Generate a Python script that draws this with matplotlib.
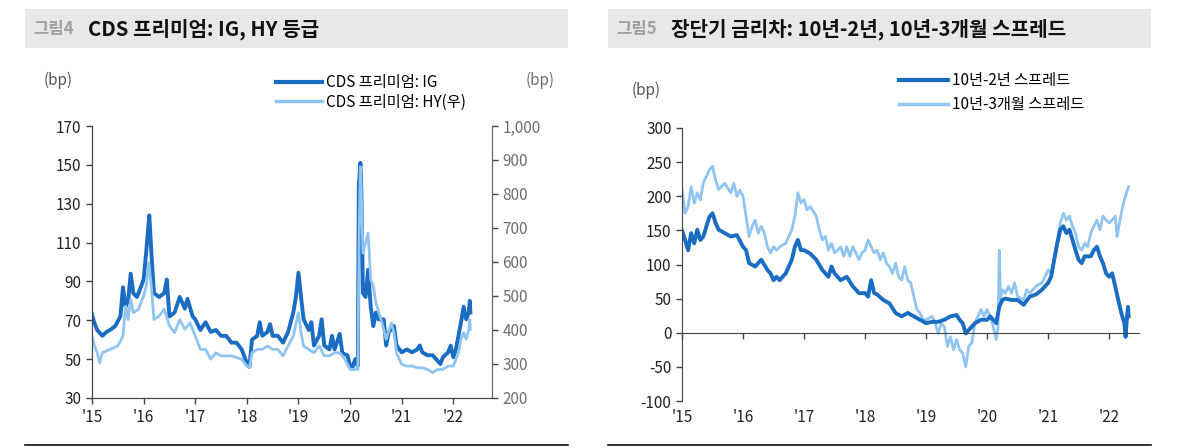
import numpy as np
import matplotlib
matplotlib.use('Agg')
import matplotlib.pyplot as plt
from matplotlib.patches import Rectangle
from matplotlib.lines import Line2D
import matplotlib.transforms as mtransforms

plt.rcParams['font.family'] = ['Noto Sans CJK KR', 'DejaVu Sans']
plt.rcParams['axes.unicode_minus'] = False

# colours
DARK = '#1a6dc2'
LIGHT = '#90c4f1'

# ---- 그림4: CDS premium (decimal years) ----
ig_t = [2015.0, 2015.03, 2015.1, 2015.2, 2015.28, 2015.35, 2015.45, 2015.55, 2015.6, 2015.65, 2015.7,
        2015.75, 2015.8, 2015.87, 2015.93, 2016.0, 2016.05, 2016.09, 2016.11, 2016.15, 2016.2, 2016.3,
        2016.4, 2016.45, 2016.5, 2016.6, 2016.7, 2016.8, 2016.85, 2016.95, 2017.0, 2017.1, 2017.2,
        2017.3, 2017.4, 2017.5, 2017.6, 2017.7, 2017.8, 2017.9, 2018.0, 2018.05, 2018.1, 2018.2,
        2018.25, 2018.3, 2018.4, 2018.45, 2018.5, 2018.6, 2018.7, 2018.8, 2018.9, 2018.95, 2019.0,
        2019.05, 2019.1, 2019.2, 2019.25, 2019.3, 2019.4, 2019.45, 2019.5, 2019.6, 2019.65, 2019.7,
        2019.8, 2019.85, 2019.95, 2020.0, 2020.05, 2020.1, 2020.15, 2020.17, 2020.2, 2020.22, 2020.25,
        2020.3, 2020.35, 2020.4, 2020.45, 2020.5, 2020.55, 2020.65, 2020.7, 2020.75, 2020.85, 2020.9,
        2021.0, 2021.1, 2021.2, 2021.3, 2021.35, 2021.4, 2021.5, 2021.6, 2021.7, 2021.75, 2021.8,
        2021.9, 2021.95, 2022.0, 2022.05, 2022.1, 2022.15, 2022.2, 2022.25, 2022.3, 2022.32, 2022.33]
ig_v = [73, 70, 65, 62, 64, 65, 67, 72, 87, 77, 80,
        94, 84, 82, 86, 91, 105, 118, 124, 105, 84, 82,
        84, 91, 72, 74, 82, 76, 81, 72, 70.5, 65, 69,
        64, 65, 62, 62, 58.5, 58.5, 55, 48, 46, 60, 62,
        69, 62, 64, 68, 62, 62, 58.5, 64, 74, 82, 94.5,
        82, 70.5, 65, 69, 57, 62, 70.5, 57, 55, 62, 55,
        63, 53, 52, 46.5, 46, 50, 46.5, 139, 151, 135.5, 84,
        82, 96, 77, 67, 74, 70.5, 70.5, 57, 64, 67, 57,
        53.5, 55, 53.5, 55, 57, 53.5, 52, 52, 49, 47.5, 51,
        53.5, 57, 51, 55, 62, 69, 77, 70.5, 74, 80, 74]

hy_t = [2015.0, 2015.05, 2015.1, 2015.15, 2015.2, 2015.35, 2015.5, 2015.6, 2015.65, 2015.7, 2015.75,
        2015.8, 2015.9, 2016.0, 2016.05, 2016.1, 2016.15, 2016.2, 2016.3, 2016.4, 2016.5, 2016.6,
        2016.7, 2016.8, 2016.9, 2017.0, 2017.1, 2017.2, 2017.3, 2017.4, 2017.5, 2017.6, 2017.7,
        2017.8, 2017.9, 2018.0, 2018.05, 2018.1, 2018.2, 2018.3, 2018.4, 2018.5, 2018.6, 2018.7,
        2018.8, 2018.9, 2019.0, 2019.05, 2019.1, 2019.2, 2019.3, 2019.4, 2019.5, 2019.6, 2019.7,
        2019.8, 2019.9, 2020.0, 2020.1, 2020.15, 2020.18, 2020.2, 2020.22, 2020.25, 2020.3, 2020.35,
        2020.4, 2020.45, 2020.5, 2020.6, 2020.7, 2020.8, 2020.85, 2020.9, 2021.0, 2021.1, 2021.2,
        2021.3, 2021.4, 2021.5, 2021.6, 2021.7, 2021.8, 2021.9, 2022.0, 2022.1, 2022.15, 2022.2,
        2022.25, 2022.3, 2022.32, 2022.33]
hy_v = [382, 353, 333, 303, 333, 343, 353, 382, 470, 431, 490,
        451, 461, 500, 529, 598, 529, 431, 441, 461, 412, 392,
        431, 402, 421, 382, 343, 343, 314, 333, 324, 324, 324,
        319, 314, 294, 289, 333, 343, 343, 353, 343, 343, 324,
        353, 382, 451, 392, 353, 343, 333, 353, 324, 324, 333,
        333, 314, 284, 284, 284, 724, 880, 792, 626, 656, 685,
        549, 529, 480, 431, 373, 421, 392, 333, 299, 294, 294,
        289, 289, 284, 275, 284, 284, 294, 294, 333, 373, 392,
        373, 402, 431, 402]

# ---- 그림5: yield curve spreads ----
s2_t = [2015.0, 2015.05, 2015.1, 2015.15, 2015.2, 2015.25, 2015.3, 2015.35, 2015.4, 2015.45, 2015.5,
        2015.55, 2015.6, 2015.7, 2015.8, 2015.9, 2016.0, 2016.05, 2016.1, 2016.2, 2016.3, 2016.4,
        2016.45, 2016.5, 2016.55, 2016.6, 2016.7, 2016.8, 2016.85, 2016.9, 2016.95, 2017.0, 2017.1,
        2017.2, 2017.3, 2017.4, 2017.45, 2017.5, 2017.6, 2017.7, 2017.8, 2017.9, 2018.0, 2018.05,
        2018.1, 2018.15, 2018.2, 2018.3, 2018.4, 2018.5, 2018.6, 2018.7, 2018.8, 2018.9, 2019.0,
        2019.1, 2019.2, 2019.3, 2019.4, 2019.5, 2019.55, 2019.6, 2019.65, 2019.7, 2019.8, 2019.9,
        2020.0, 2020.05, 2020.1, 2020.15, 2020.2, 2020.25, 2020.3, 2020.4, 2020.5, 2020.6, 2020.7,
        2020.8, 2020.9, 2021.0, 2021.05, 2021.1, 2021.15, 2021.2, 2021.25, 2021.3, 2021.35, 2021.4,
        2021.45, 2021.5, 2021.55, 2021.6, 2021.7, 2021.75, 2021.8, 2021.85, 2021.9, 2021.95, 2022.0,
        2022.05, 2022.1, 2022.15, 2022.2, 2022.25, 2022.27, 2022.29, 2022.31, 2022.32]
s2_v = [150, 136, 121, 146, 131, 151, 136, 141, 156, 170, 175,
        161, 151, 146, 141, 143, 126, 121, 102, 97, 107, 92,
        87, 77, 82, 77, 87, 107, 126, 136, 121, 121, 116,
        107, 92, 82, 97, 87, 77, 82, 68, 58, 58, 53,
        77, 58, 56, 48, 43, 29, 24, 29, 24, 19, 14,
        16, 16, 19, 24, 26, 19, 14, -1, 4, 14, 19,
        19, 24, 19, 14, 38, 48, 50, 48, 48, 41, 53,
        56, 63, 73, 82, 107, 131, 151, 156, 146, 151, 136,
        121, 107, 102, 112, 112, 121, 126, 112, 102, 87, 82,
        87, 68, 48, 29, 14, -6, 19, 38, 24]

s3_t = [2015.0, 2015.05, 2015.1, 2015.15, 2015.2, 2015.25, 2015.3, 2015.35, 2015.4, 2015.45, 2015.5,
        2015.55, 2015.6, 2015.7, 2015.8, 2015.85, 2015.9, 2015.95, 2016.0, 2016.05, 2016.1, 2016.15,
        2016.2, 2016.25, 2016.3, 2016.35, 2016.4, 2016.45, 2016.5, 2016.55, 2016.6, 2016.7, 2016.75,
        2016.8, 2016.85, 2016.9, 2016.95, 2017.0, 2017.05, 2017.1, 2017.2, 2017.25, 2017.3, 2017.35,
        2017.4, 2017.45, 2017.5, 2017.55, 2017.6, 2017.65, 2017.7, 2017.75, 2017.8, 2017.85, 2017.9,
        2017.95, 2018.0, 2018.05, 2018.1, 2018.15, 2018.2, 2018.25, 2018.3, 2018.35, 2018.4, 2018.45,
        2018.5, 2018.55, 2018.6, 2018.65, 2018.7, 2018.75, 2018.8, 2018.85, 2018.9, 2018.95, 2019.0,
        2019.1, 2019.15, 2019.2, 2019.25, 2019.3, 2019.35, 2019.4, 2019.45, 2019.5, 2019.55, 2019.6,
        2019.65, 2019.7, 2019.75, 2019.8, 2019.85, 2019.9, 2019.95, 2020.0, 2020.05, 2020.1, 2020.15,
        2020.18, 2020.2, 2020.22, 2020.25, 2020.3, 2020.35, 2020.4, 2020.45, 2020.5, 2020.6, 2020.65,
        2020.7, 2020.8, 2020.9, 2021.0, 2021.05, 2021.1, 2021.15, 2021.2, 2021.25, 2021.3, 2021.35,
        2021.4, 2021.45, 2021.5, 2021.55, 2021.6, 2021.65, 2021.7, 2021.75, 2021.8, 2021.85, 2021.9,
        2021.95, 2022.0, 2022.05, 2022.1, 2022.13, 2022.15, 2022.2, 2022.25, 2022.3, 2022.32]
s3_v = [210, 175, 185, 214, 190, 205, 195, 220, 229, 239, 244,
        224, 210, 219, 205, 219, 200, 209, 200, 171, 141, 156,
        165, 146, 156, 146, 126, 117, 126, 121, 126, 131, 141,
        151, 171, 205, 190, 195, 180, 185, 171, 151, 136, 141,
        121, 131, 117, 121, 126, 112, 126, 112, 126, 117, 107,
        117, 121, 136, 126, 117, 121, 107, 117, 102, 97, 87,
        102, 82, 77, 97, 77, 73, 53, 34, 29, 19, 19,
        24, 14, -1, 14, 9, -20, -6, -25, -10, -25, -30,
        -50, -20, -15, 14, 24, 34, 24, 34, 24, 9, -10,
        9, 121, 48, 63, 58, 68, 58, 73, 53, 48, 63,
        58, 68, 73, 92, 87, 107, 136, 161, 175, 165, 171,
        156, 146, 126, 121, 131, 126, 146, 156, 165, 151, 171,
        165, 161, 165, 171, 141, 151, 175, 195, 209, 214]

years = [2015, 2016, 2017, 2018, 2019, 2020, 2021, 2022]
year_labels = ["'15", "'16", "'17", "'18", "'19", "'20", "'21", "'22"]

fig = plt.figure(figsize=(11.93, 4.48), dpi=100)

# title bands
for x0, tag, title in [(0.021, '그림4', 'CDS 프리미엄: IG, HY 등급'),
                       (0.5096, '그림5', '장단기 금리차: 10년-2년, 10년-3개월 스프레드')]:
    fig.add_artist(Rectangle((x0, 0.893), 0.455, 0.087, transform=fig.transFigure,
                             facecolor='#e8e8e8', edgecolor='none'))
    fig.text(x0 + 0.0067, 0.935, tag, fontsize=12, fontweight='bold', color='#a0a0a0', va='center')
    fig.text(x0 + 0.053, 0.935, title, fontsize=14.5, fontweight='bold', color='#111111', va='center')
    fig.add_artist(Line2D([x0, x0 + 0.455], [0.007, 0.007], transform=fig.transFigure,
                          color='#111111', lw=1.2))

TICK_KW = dict(labelsize=11, length=4, width=1, direction='out')

# ---- left chart ----
ax1 = fig.add_axes([92 / 1193, 1 - 398 / 448, 400 / 1193, 272 / 448])
ax2 = ax1.twinx()
ax1.plot(ig_t, ig_v, color=DARK, lw=2.8, label='CDS 프리미엄: IG', solid_joinstyle='round')
ax2.plot(hy_t, hy_v, color=LIGHT, lw=2.0, label='CDS 프리미엄: HY(우)', solid_joinstyle='round')
ax1.set_xlim(2015.0, 2022.75)
ax1.set_ylim(30, 170)
ax2.set_ylim(200, 1000)
ax1.set_yticks(range(30, 171, 20))
ax2.set_yticks(range(200, 1001, 100))
ax2.set_yticklabels([f'{v:,}' for v in range(200, 1001, 100)])
ax1.set_xticks(years)
ax1.set_xticklabels(year_labels)
for a in (ax1, ax2):
    a.spines['top'].set_visible(False)
    for s in ('left', 'right', 'bottom'):
        a.spines[s].set_color('#444444')
ax1.tick_params(axis='both', colors='#444444', labelcolor='#222222', **TICK_KW)
ax1.tick_params(axis='x', pad=4)
ax2.tick_params(axis='y', colors='#444444', labelcolor='#6e6e6e', **TICK_KW)
ax2.spines['right'].set_color('#666666')

labels_left = [ax1.get_lines()[0].get_label(), ax2.get_lines()[0].get_label()]
leg_handles = [Line2D([], [], color=DARK, lw=3), Line2D([], [], color=LIGHT, lw=2.5)]
fig.legend(leg_handles, labels_left, loc='upper left', bbox_to_anchor=(276 / 1193, 1 - 74 / 448),
           frameon=False, fontsize=11, handlelength=3.0, handletextpad=0.25, labelspacing=0.18,
           borderaxespad=0, borderpad=0)
fig.text(58 / 1193, 1 - 80 / 448, '(bp)', fontsize=11, color='#555555', ha='center', va='center')
fig.text(540 / 1193, 1 - 80 / 448, '(bp)', fontsize=11, color='#6e6e6e', ha='center', va='center')

# ---- right chart ----
ax3 = fig.add_axes([682 / 1193, 1 - 401 / 448, 457 / 1193, 273 / 448])
ax3.plot(s3_t, s3_v, color=LIGHT, lw=2.0, label='10년-3개월 스프레드', solid_joinstyle='round')
ax3.plot(s2_t, s2_v, color=DARK, lw=2.8, label='10년-2년 스프레드', solid_joinstyle='round')
ax3.set_xlim(2015.0, 2022.49)
ax3.set_ylim(-100, 300)
ax3.set_yticks(range(-100, 301, 50))
ax3.set_xticks(years)
ax3.spines['top'].set_visible(False)
ax3.spines['right'].set_visible(False)
ax3.spines['bottom'].set_position(('data', 0))
for s in ('left', 'bottom'):
    ax3.spines[s].set_color('#444444')
ax3.tick_params(axis='both', colors='#444444', labelcolor='#222222', **TICK_KW)
ax3.tick_params(axis='x', labelbottom=False)
trans = mtransforms.blended_transform_factory(ax3.transData, ax3.transAxes)
for yr, lab in zip(years, year_labels):
    ax3.text(yr, -0.06, lab, transform=trans, ha='center', va='center', fontsize=11, color='#222222')

fig.legend([Line2D([], [], color=DARK, lw=3), Line2D([], [], color=LIGHT, lw=2.5)],
           ['10년-2년 스프레드', '10년-3개월 스프레드'], loc='upper left',
           bbox_to_anchor=(899 / 1193, 1 - 72 / 448), frameon=False, fontsize=11,
           handlelength=3.2, handletextpad=0.25, labelspacing=0.45, borderaxespad=0, borderpad=0)
fig.text(646 / 1193, 1 - 90 / 448, '(bp)', fontsize=11, color='#555555', ha='center', va='center')

fig.savefig('out.png', dpi=100)
